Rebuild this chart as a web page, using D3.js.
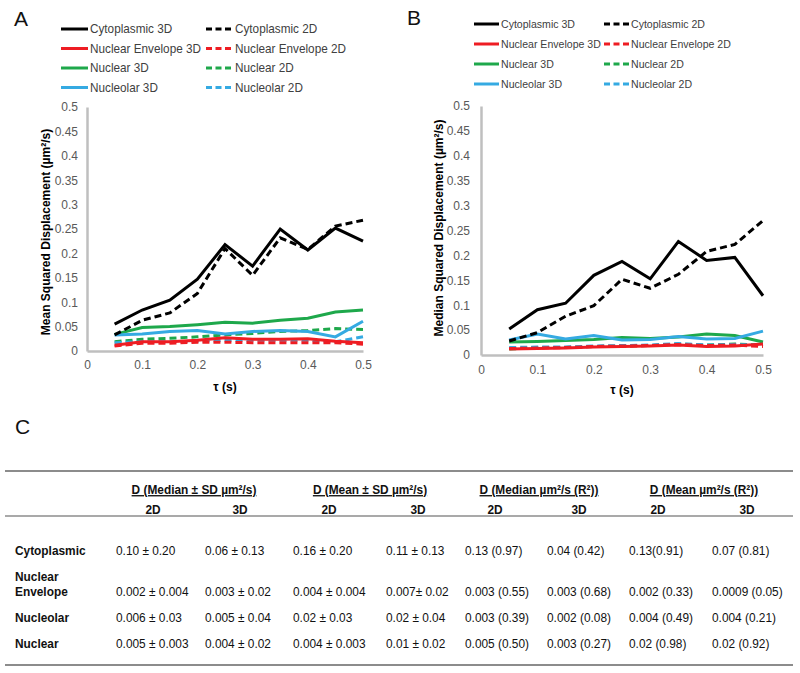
<!DOCTYPE html>
<html><head><meta charset="utf-8">
<script src="https://cdn.jsdelivr.net/npm/d3@7"></script>
<style>
html,body{margin:0;padding:0;background:#fff;}
svg{display:block;}
</style>
</head><body>
<svg id="c" width="800" height="673"></svg>
<script>
// ---------- DATA ----------
const tau = [0.05, 0.10, 0.15, 0.20, 0.25, 0.30, 0.35, 0.40, 0.45, 0.50];
const xTicks = [0, 0.1, 0.2, 0.3, 0.4, 0.5];
const yTicks = [0, 0.05, 0.1, 0.15, 0.2, 0.25, 0.3, 0.35, 0.4, 0.45, 0.5];
const yTickLabels = ["0", "0.05", "0.1", "0.15", "0.2", "0.25", "0.3", "0.35", "0.4", "0.45", "0.5"];
const xTickLabels = ["0", "0.1", "0.2", "0.3", "0.4", "0.5"];

const seriesNames = ["Cytoplasmic 3D", "Cytoplasmic 2D", "Nuclear Envelope 3D", "Nuclear Envelope 2D",
                     "Nuclear 3D", "Nuclear 2D", "Nucleolar 3D", "Nucleolar 2D"];
const seriesColors = ["#000000", "#000000", "#ee1d23", "#ee1d23", "#1ea84b", "#1ea84b", "#35aae2", "#35aae2"];
const seriesDashed = [false, true, false, true, false, true, false, true];

// Panel A: Mean squared displacement
const meanCyto3D   = [0.055, 0.084, 0.104, 0.147, 0.218, 0.174, 0.250, 0.207, 0.252, 0.225];
const meanCyto2D   = [0.033, 0.063, 0.078, 0.118, 0.210, 0.155, 0.232, 0.208, 0.256, 0.268];
const meanNE3D     = [0.012, 0.019, 0.019, 0.022, 0.027, 0.024, 0.024, 0.025, 0.020, 0.017];
const meanNE2D     = [0.010, 0.016, 0.016, 0.018, 0.018, 0.017, 0.017, 0.017, 0.017, 0.014];
const meanNuc3D    = [0.034, 0.048, 0.050, 0.054, 0.059, 0.057, 0.063, 0.067, 0.080, 0.084];
const meanNuc2D    = [0.019, 0.024, 0.026, 0.029, 0.033, 0.036, 0.040, 0.042, 0.046, 0.044];
const meanNucleo3D = [0.033, 0.035, 0.040, 0.042, 0.035, 0.040, 0.042, 0.040, 0.029, 0.061];
const meanNucleo2D = [0.017, 0.019, 0.019, 0.020, 0.022, 0.022, 0.022, 0.022, 0.019, 0.029];

// Panel B: Median squared displacement
const medCyto3D   = [0.052, 0.091, 0.104, 0.160, 0.188, 0.153, 0.228, 0.190, 0.196, 0.119];
const medCyto2D   = [0.028, 0.045, 0.078, 0.099, 0.152, 0.134, 0.162, 0.208, 0.222, 0.270];
const medNE3D     = [0.012, 0.013, 0.014, 0.016, 0.017, 0.018, 0.020, 0.017, 0.018, 0.022];
const medNE2D     = [0.013, 0.014, 0.015, 0.017, 0.018, 0.019, 0.021, 0.019, 0.020, 0.017];
const medNuc3D    = [0.026, 0.027, 0.029, 0.031, 0.035, 0.033, 0.036, 0.042, 0.039, 0.026];
const medNuc2D    = [0.012, 0.015, 0.015, 0.017, 0.018, 0.019, 0.022, 0.020, 0.022, 0.020];
const medNucleo3D = [0.030, 0.042, 0.032, 0.039, 0.030, 0.031, 0.037, 0.032, 0.033, 0.048];
const medNucleo2D = [0.015, 0.016, 0.016, 0.018, 0.019, 0.020, 0.023, 0.020, 0.021, 0.020];

// Panel C: table
const tableGroups = ["D (Median ± SD µm²/s)", "D (Mean ± SD µm²/s)", "D (Median µm²/s (R²))", "D (Mean µm²/s (R²))"];
const tableSubs = ["2D", "3D", "2D", "3D", "2D", "3D", "2D", "3D"];
const tableRowLabels = [["Cytoplasmic"], ["Nuclear", "Envelope"], ["Nucleolar"], ["Nuclear"]];
const rowCytoplasmic = ["0.10 ± 0.20", "0.06 ± 0.13", "0.16 ± 0.20", "0.11 ± 0.13", "0.13 (0.97)", "0.04 (0.42)", "0.13(0.91)", "0.07 (0.81)"];
const rowEnvelope    = ["0.002 ± 0.004", "0.003 ± 0.02", "0.004 ± 0.004", "0.007± 0.02", "0.003 (0.55)", "0.003 (0.68)", "0.002 (0.33)", "0.0009 (0.05)"];
const rowNucleolar   = ["0.006 ± 0.03", "0.005 ± 0.04", "0.02 ± 0.03", "0.02 ± 0.04", "0.003 (0.39)", "0.002 (0.08)", "0.004 (0.49)", "0.004 (0.21)"];
const rowNuclear     = ["0.005 ± 0.003", "0.004 ± 0.02", "0.004 ± 0.003", "0.01 ± 0.02", "0.005 (0.50)", "0.003 (0.27)", "0.02 (0.98)", "0.02 (0.92)"];

// ---------- DRAW ----------
const svg = d3.select("#c");
const FONT = "'Liberation Sans', Arial, Helvetica, sans-serif";

function panel(cfg) {
  const g = svg.append("g");
  const x = d3.scaleLinear().domain([0, 0.5]).range([cfg.x0, cfg.x1]);
  const y = d3.scaleLinear().domain([0, 0.5]).range([cfg.y0, cfg.y1]);

  g.append("text").attr("x", cfg.letterX).attr("y", cfg.letterY)
    .attr("font-family", FONT).attr("font-size", 21).attr("fill", "#111").text(cfg.letter);

  const yAxis = d3.axisLeft(y).tickValues(yTicks).tickSize(0).tickPadding(cfg.yPad)
    .tickFormat((d, i) => yTickLabels[i]);
  const ya = g.append("g").attr("transform", `translate(${cfg.x0},0)`).call(yAxis);
  const xAxis = d3.axisBottom(x).tickValues(xTicks).tickSize(0).tickPadding(cfg.xPad)
    .tickFormat((d, i) => xTickLabels[i]);
  const xa = g.append("g").attr("transform", `translate(0,${cfg.y0})`).call(xAxis);
  [ya, xa].forEach(a => {
    a.select(".domain").attr("stroke", "#bfbfbf").attr("stroke-width", 2.5);
    a.selectAll("text").attr("font-family", FONT).attr("font-size", 12).attr("fill", "#595959");
  });

  const line = d3.line().x((d, i) => x(tau[i])).y(d => y(d));
  const order = [4, 5, 6, 7, 2, 3, 0, 1];
  order.forEach(k => {
    g.append("path").datum(cfg.series[k]).attr("d", line)
      .attr("fill", "none").attr("stroke", seriesColors[k]).attr("stroke-width", 3)
      .attr("stroke-dasharray", seriesDashed[k] ? "7,4" : null)
      .attr("stroke-linejoin", "miter");
  });

  g.append("text").attr("x", cfg.xtX).attr("y", cfg.xtY).attr("text-anchor", "middle")
    .attr("font-family", FONT).attr("font-size", 12).attr("font-weight", "bold").attr("fill", "#000")
    .text("τ (s)");
  g.append("text").attr("transform", `translate(${cfg.ytX},${cfg.ytY}) rotate(-90)`)
    .attr("text-anchor", "middle")
    .attr("font-family", FONT).attr("font-size", 12).attr("font-weight", "bold").attr("fill", "#000")
    .text(cfg.yTitle);

  seriesNames.forEach((name, k) => {
    const col = k % 2, row = Math.floor(k / 2);
    const lx = cfg.legX[col], ly = cfg.legY0 + row * cfg.legDY;
    g.append("line").attr("x1", lx).attr("x2", lx + cfg.legLen).attr("y1", ly).attr("y2", ly)
      .attr("stroke", seriesColors[k]).attr("stroke-width", 3)
      .attr("stroke-dasharray", seriesDashed[k] ? "6,3.5" : null);
    g.append("text").attr("transform", `translate(${lx + cfg.legLen + 2},${ly}) scale(${cfg.legSX},1)`)
      .attr("dy", "0.35em")
      .attr("font-family", FONT).attr("font-size", cfg.legFont).attr("fill", "#404040")
      .text(name);
  });
}

panel({
  letter: "A", letterX: 14, letterY: 26,
  x0: 87, x1: 363, y0: 351, y1: 107, yPad: 9, xPad: 9,
  series: [meanCyto3D, meanCyto2D, meanNE3D, meanNE2D, meanNuc3D, meanNuc2D, meanNucleo3D, meanNucleo2D],
  xtX: 225, xtY: 391, ytX: 50, ytY: 232,
  yTitle: "Mean Squared Displacement (µm²/s)",
  legX: [61, 206], legLen: 27, legY0: 29, legDY: 19.5, legFont: 12.5, legSX: 0.94
});
panel({
  letter: "B", letterX: 407, letterY: 25,
  x0: 481, x1: 763, y0: 355, y1: 106, yPad: 11, xPad: 10,
  series: [medCyto3D, medCyto2D, medNE3D, medNE2D, medNuc3D, medNuc2D, medNucleo3D, medNucleo2D],
  xtX: 622, xtY: 394, ytX: 443, ytY: 228,
  yTitle: "Median Squared Displacement (µm²/s)",
  legX: [474, 604], legLen: 25, legY0: 24, legDY: 20, legFont: 11.5, legSX: 0.92
});

// ---------- TABLE ----------
const t = svg.append("g");
t.append("text").attr("x", 15).attr("y", 434).attr("font-family", FONT).attr("font-size", 21)
  .attr("fill", "#111").text("C");

const colStarts = [116, 205, 293, 386, 465, 547, 629, 712];
const subCenters = [153, 240, 329, 418, 495, 579, 658, 747];
const groupCenters = [194, 370, 539, 704];
const tx = d3.scaleOrdinal().domain(d3.range(8)).range(colStarts);
const SX = 0.88; // narrow face emulation

function ttext(x, y, s, opts) {
  return t.append("text").attr("transform", `translate(${x},${y}) scale(${SX},1)`)
    .attr("font-family", FONT).attr("font-size", 13.5)
    .attr("font-weight", opts.bold ? "bold" : null)
    .attr("text-anchor", opts.anchor || "start")
    .attr("text-decoration", opts.underline ? "underline" : null)
    .attr("fill", "#111").text(s);
}

t.append("line").attr("x1", 5).attr("x2", 793).attr("y1", 471).attr("y2", 471)
  .attr("stroke", "#8c8c8c").attr("stroke-width", 2);
t.append("line").attr("x1", 5).attr("x2", 793).attr("y1", 516).attr("y2", 516)
  .attr("stroke", "#8c8c8c").attr("stroke-width", 1.5);
t.append("line").attr("x1", 5).attr("x2", 793).attr("y1", 665).attr("y2", 665)
  .attr("stroke", "#8c8c8c").attr("stroke-width", 2);

tableGroups.forEach((gname, i) => ttext(groupCenters[i], 494, gname, {bold: true, anchor: "middle", underline: true}));
tableSubs.forEach((s, i) => ttext(subCenters[i], 514, s, {bold: true, anchor: "middle"}));

const rows = [rowCytoplasmic, rowEnvelope, rowNucleolar, rowNuclear];
const rowY = [555, 596, 622, 648];
rows.forEach((r, ri) => {
  const lab = tableRowLabels[ri];
  lab.forEach((l, li) => ttext(15, rowY[ri] - (lab.length - 1 - li) * 15, l, {bold: true}));
  r.forEach((v, ci) => ttext(tx(ci), rowY[ri], v, {}));
});
</script>
</body></html>
